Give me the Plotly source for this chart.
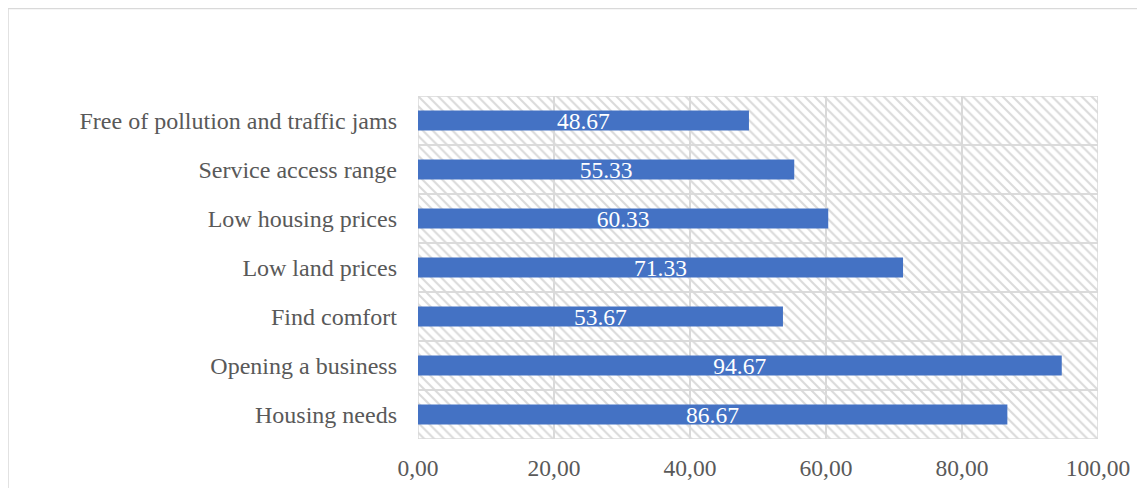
import plotly.graph_objects as go

# Data (bottom to top)
categories = [
    "Housing needs",
    "Opening a business",
    "Find comfort",
    "Low land prices",
    "Low housing prices",
    "Service access range",
    "Free of pollution and traffic jams",
]
values = [86.67, 94.67, 53.67, 71.33, 60.33, 55.33, 48.67]
tick_vals = [0, 20, 40, 60, 80, 100]
tick_text = ["0,00", "20,00", "40,00", "60,00", "80,00", "100,00"]

AXIS_MAX = 100
FONT = "Times New Roman, Liberation Serif, serif"
GRID = "#d9d9d9"

ML, MR, MT, MB = 410, 55, 88, 57
PW = 1145 - ML - MR
PH = 488 - MT - MB

fig = go.Figure()

# hatched background per category slot
fig.add_trace(go.Bar(
    y=categories,
    x=[AXIS_MAX] * len(categories),
    orientation="h",
    width=1,
    marker=dict(
        color="rgba(0,0,0,0)",
        line=dict(color=GRID, width=1.5),
        pattern=dict(shape="\\", fgcolor="#dadada", fillmode="replace", size=7, solidity=0.3),
    ),
    hoverinfo="skip",
    showlegend=False,
))

fig.add_trace(go.Bar(
    y=categories,
    x=values,
    orientation="h",
    width=0.41,
    marker=dict(color="#4472C4", line=dict(width=0)),
    texttemplate="%{x:.2f}",
    textposition="inside",
    insidetextanchor="middle",
    constraintext="none",
    textfont=dict(family=FONT, size=23.5, color="white"),
    showlegend=False,
))

fig.update_layout(
    width=1145,
    height=488,
    barmode="overlay",
    margin=dict(l=ML, r=MR, t=MT, b=MB),
    paper_bgcolor="white",
    plot_bgcolor="white",
    font=dict(family=FONT, size=24, color="#595959"),
    xaxis=dict(
        range=[0, AXIS_MAX],
        tickvals=tick_vals,
        ticktext=tick_text,
        showgrid=True,
        gridcolor=GRID,
        gridwidth=1.5,
        zeroline=False,
        showline=False,
        ticks="",
        ticklabelstandoff=12,
        tickfont=dict(family=FONT, size=23.5, color="#595959"),
    ),
    yaxis=dict(
        showgrid=False,
        zeroline=False,
        showline=False,
        ticks="",
        ticklabelstandoff=20,
        tickfont=dict(family=FONT, size=24, color="#595959"),
        range=[-0.5, len(categories) - 0.5],
    ),
    shapes=[dict(
        type="rect", xref="paper", yref="paper",
        x0=(0 - ML) / PW, x1=1.3, y0=-0.4, y1=(PH + MT - 0.5) / PH,
        line=dict(color="#d9d9d9", width=1.5), fillcolor="rgba(0,0,0,0)",
        layer="below",
    )],
)

fig.write_html("out.html")
